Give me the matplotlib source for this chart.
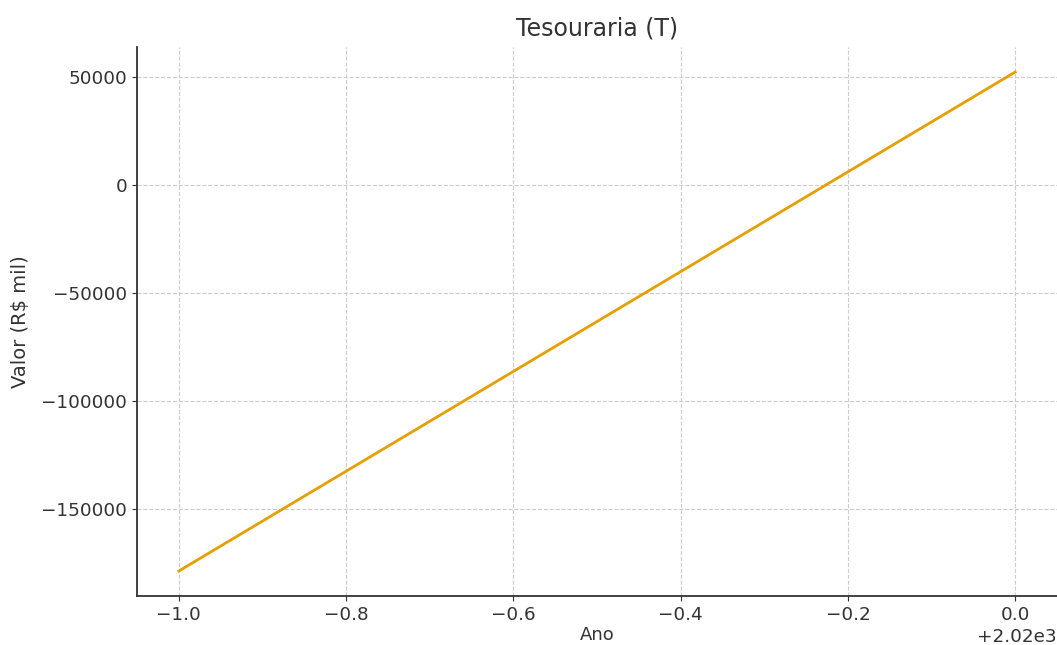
import matplotlib
matplotlib.use('Agg')
import matplotlib.pyplot as plt

# data
anos = [2019, 2020]
tesouraria = [-178700, 52300]

plt.rcParams['font.family'] = 'DejaVu Sans'
plt.rcParams['text.color'] = '#333333'
plt.rcParams['axes.labelcolor'] = '#333333'
plt.rcParams['xtick.color'] = '#333333'
plt.rcParams['ytick.color'] = '#333333'

fig = plt.figure(figsize=(10.57, 6.45), dpi=100)
ax = fig.add_axes([0.1296, 0.076, 0.8704, 0.851])

ax.plot(anos, tesouraria, color='#E69F00', linewidth=2)
ax.set_title('Tesouraria (T)', fontsize=17, pad=8)
ax.set_xlabel('Ano', fontsize=13, labelpad=2)
ax.set_ylabel('Valor (R$ mil)', fontsize=14, labelpad=8)
ax.tick_params(labelsize=13.2)
ax.xaxis.get_offset_text().set_fontsize(13.2)
ax.grid(True, linestyle='--', color='#cccccc', linewidth=0.8)
for s in ['top', 'right']:
    ax.spines[s].set_visible(False)
for s in ['left', 'bottom']:
    ax.spines[s].set_color('#333333')
    ax.spines[s].set_linewidth(1.3)

fig.savefig('out.png', dpi=100)
